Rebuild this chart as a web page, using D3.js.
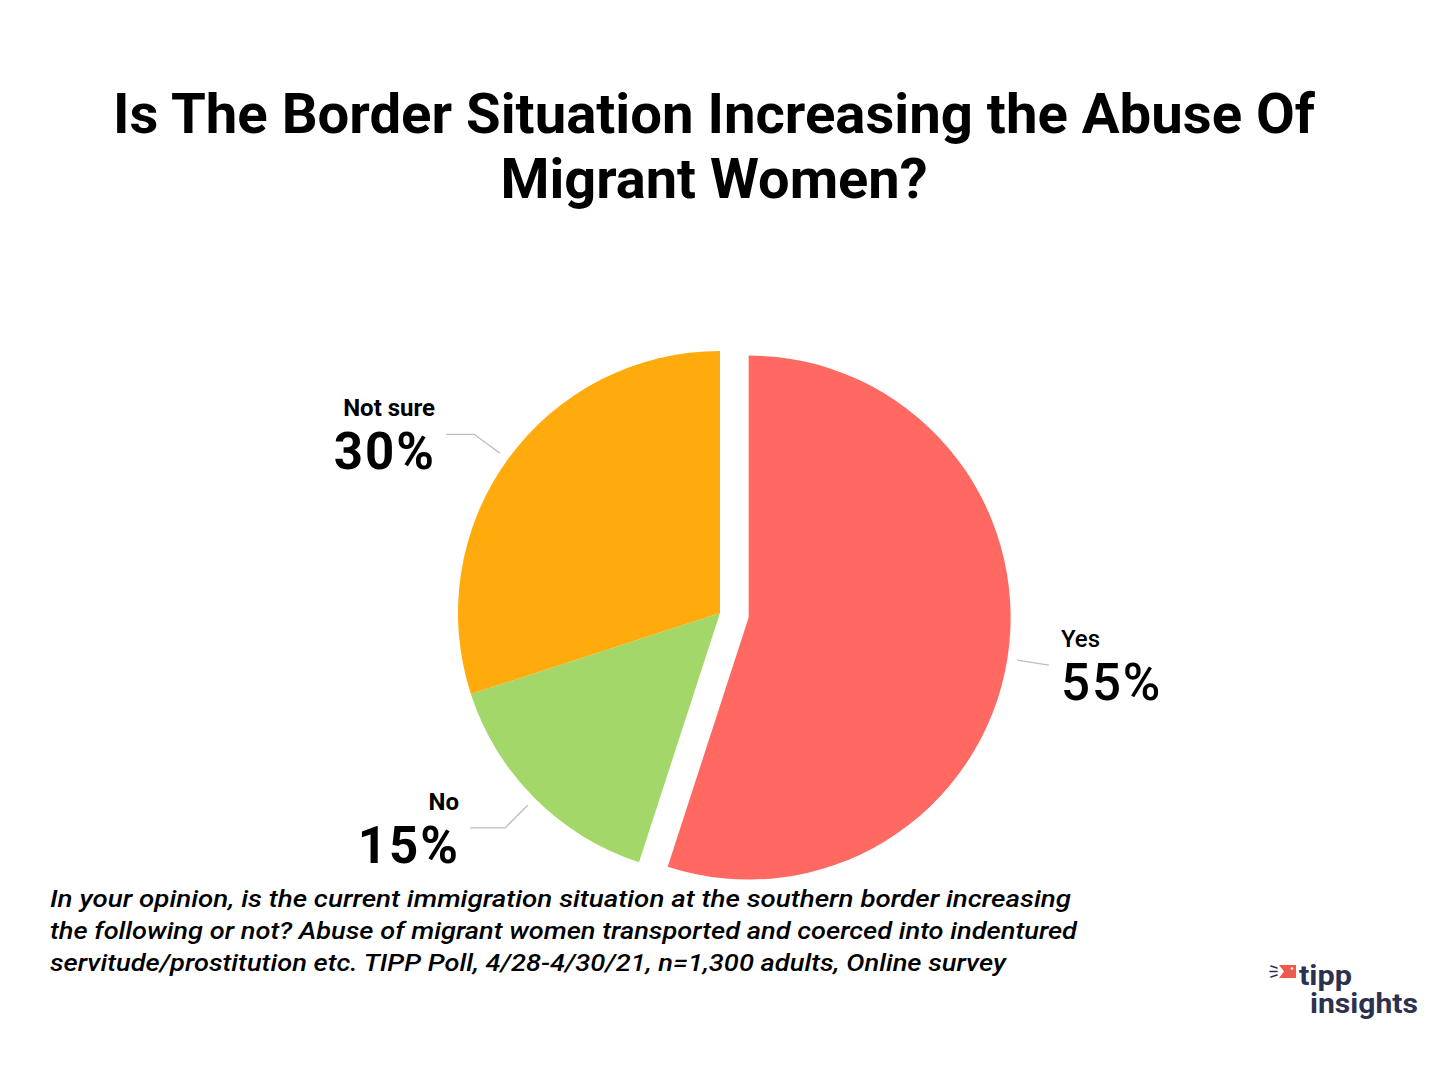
<!DOCTYPE html>
<html>
<head>
<meta charset="utf-8">
<script src="https://cdn.jsdelivr.net/npm/d3@7"></script>
<style>
  html, body { margin: 0; padding: 0; background: #fff; }
  svg { display: block; }
</style>
</head>
<body>
<div id="chart"></div>
<script>
// ---- Data ----
const categories = ["Yes", "No", "Not sure"];
const values = [55, 15, 30];
const valueLabels = ["55%", "15%", "30%"];
const colors = ["#FF6961", "#A3D769", "#FFAB0D"];
const titleLines = ["Is The Border Situation Increasing the Abuse Of", "Migrant Women?"];
const noteLines = [
  "In your opinion, is the current immigration situation at the southern border increasing",
  "the following or not? Abuse of migrant women transported and coerced into indentured",
  "servitude/prostitution etc.  TIPP Poll, 4/28-4/30/21, n=1,300 adults, Online survey"
];

const W = 1440, H = 1080;
const svg = d3.select("#chart").append("svg").attr("width", W).attr("height", H);
svg.append("rect").attr("width", W).attr("height", H).attr("fill", "#fff");

// ---- Title ----
const titleFont = "Roboto, 'Noto Sans', sans-serif";
const titleSpecs = [{ y: 133, len: 1202 }, { y: 198, len: 427 }];
titleLines.forEach((t, i) => {
  svg.append("text")
    .attr("x", 714).attr("y", titleSpecs[i].y)
    .attr("text-anchor", "middle")
    .attr("font-family", titleFont).attr("font-weight", 700)
    .attr("font-size", 55).attr("fill", "#000")
    .attr("textLength", titleSpecs[i].len).attr("lengthAdjust", "spacingAndGlyphs")
    .text(t);
});

// ---- Pie ----
const cx = 720, cy = 613, R = 262, explode = 29;
const pie = d3.pie().sort(null).value(d => d)(values);
const arc = d3.arc().innerRadius(0).outerRadius(R);
const g = svg.append("g").attr("transform", `translate(${cx},${cy})`);

function mid(d) { return (d.startAngle + d.endAngle) / 2; }
function offset(i) {
  if (i !== 0) return [0, 0];
  const a = mid(pie[i]);
  return [Math.sin(a) * explode, -Math.cos(a) * explode];
}

g.selectAll("path.slice").data(pie).enter().append("path")
  .attr("class", "slice")
  .attr("d", arc)
  .attr("fill", (d, i) => colors[i])
  .attr("transform", (d, i) => `translate(${offset(i)[0]},${offset(i)[1]})`);

// ---- Leader lines & labels ----
const r1 = 272, r2 = 304;
const hLen = [0, 35, 28];
pie.forEach((d, i) => {
  const a = mid(d);
  const [ox, oy] = offset(i);
  const sx = Math.sin(a), sy = -Math.cos(a);
  const p1 = [ox + sx * r1, oy + sy * r1];
  const p2 = [ox + sx * r2, oy + sy * r2];
  const right = sx > 0;
  const p3 = [p2[0] + (right ? 1 : -1) * hLen[i], p2[1]];
  g.append("path")
    .attr("d", d3.line()([p1, p2, p3]))
    .attr("fill", "none").attr("stroke", "#BDBDC2").attr("stroke-width", 1.3);
  const tx = p3[0] + (right ? 12 : -11);
  const anchor = right ? "start" : "end";
  g.append("text")
    .attr("x", tx).attr("y", p3[1] - 18)
    .attr("text-anchor", anchor)
    .attr("font-family", "Roboto, sans-serif").attr("font-weight", i === 0 ? 500 : 700)
    .attr("font-size", 24).attr("fill", "#000")
    .text(categories[i]);
  g.append("text")
    .attr("x", tx + (right ? 0 : 1)).attr("y", p3[1] + 35)
    .attr("text-anchor", anchor)
    .attr("font-family", "Roboto, sans-serif").attr("font-weight", i === 0 ? 500 : 700)
    .attr("font-size", 51).attr("fill", "#000")
    .attr("letter-spacing", 2)
    .text(valueLabels[i]);
});

// ---- Footnote ----
const noteLens = [1021, 1027, 956];
noteLines.forEach((t, i) => {
  svg.append("text")
    .attr("x", 50).attr("y", 907 + i * 32)
    .attr("font-family", "Roboto, sans-serif").attr("font-style", "italic")
    .attr("font-weight", 500).attr("font-size", 23).attr("fill", "#000")
    .attr("textLength", noteLens[i]).attr("lengthAdjust", "spacingAndGlyphs")
    .text(t);
});

// ---- Logo ----
const navy = "#2D3150";
const logo = svg.append("g");
logo.append("path")
  .attr("d", "M1279,965 L1296,965 L1296,978 L1279,978 L1284,971.5 Z")
  .attr("fill", "#EE5A4C");
logo.append("circle").attr("cx", 1292).attr("cy", 968.5).attr("r", 1.3).attr("fill", "#fff");
[[1271, 966, 1277, 968], [1270, 971.5, 1277, 971.5], [1271, 977, 1277, 975]].forEach(l => {
  logo.append("line").attr("x1", l[0]).attr("y1", l[1]).attr("x2", l[2]).attr("y2", l[3])
    .attr("stroke", navy).attr("stroke-width", 1.6).attr("stroke-linecap", "round");
});
logo.append("text").attr("x", 1299).attr("y", 985)
  .attr("font-family", "Roboto, sans-serif").attr("font-weight", 700)
  .attr("font-size", 27).attr("fill", navy)
  .attr("textLength", 53).attr("lengthAdjust", "spacingAndGlyphs").text("tipp");
logo.append("text").attr("x", 1310).attr("y", 1013)
  .attr("font-family", "Roboto, sans-serif").attr("font-weight", 700)
  .attr("font-size", 27).attr("fill", navy)
  .attr("textLength", 108).attr("lengthAdjust", "spacingAndGlyphs").text("insights");
</script>
</body>
</html>
